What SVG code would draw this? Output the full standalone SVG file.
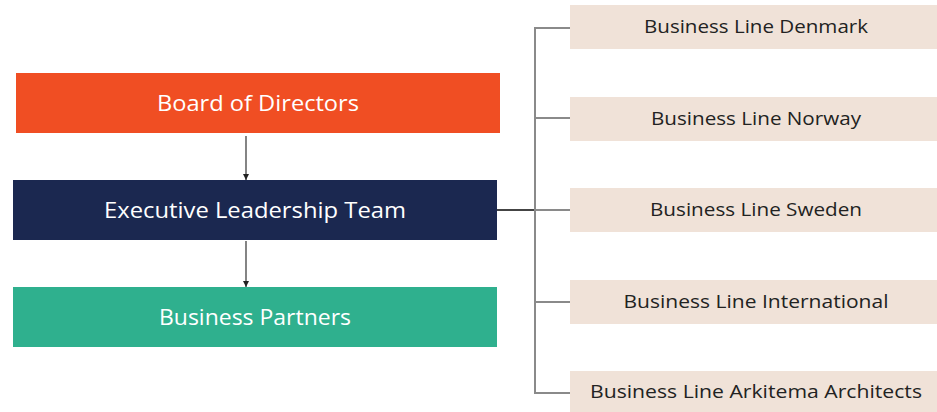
<svg xmlns="http://www.w3.org/2000/svg" width="937" height="412" viewBox="0 0 937 412">
<style>
.l{font-family:"Open Sans","DejaVu Sans",sans-serif;font-size:22.5px;fill:#fff;text-anchor:middle;dominant-baseline:central}
.r{font-family:"Open Sans","DejaVu Sans",sans-serif;font-size:19px;fill:#222;text-anchor:middle;dominant-baseline:central}
.bl{fill:#F0E2D8}
.c{stroke:#8a8a8a;stroke-width:2;fill:none}
.a{stroke:#333;stroke-width:1.2;fill:none}
</style>
<defs>
<marker id="ah" viewBox="0 0 10 10" refX="10" refY="5" markerWidth="6" markerHeight="6" orient="auto" markerUnits="userSpaceOnUse">
<path d="M0,0 L10,5 L0,10 z" fill="#222"/>
</marker>
</defs>
<g id="connectors">
<line class="a" x1="246" y1="136" x2="246" y2="180" marker-end="url(#ah)"/>
<line class="a" x1="246" y1="241" x2="246" y2="287" marker-end="url(#ah)"/>
<line x1="497" y1="210" x2="535" y2="210" stroke="#444" stroke-width="2"/>
<path class="c" d="M570,28 H535 V393 H570 M535,118 H570 M535,210 H570 M535,302 H570"/>
</g>
<g id="board"><rect x="16" y="73" width="484" height="60" fill="#F04E23"/><text class="l" x="258" y="102" textLength="202" lengthAdjust="spacingAndGlyphs">Board of Directors</text></g>
<g id="elt"><rect x="13" y="180" width="484" height="60" fill="#1B2850"/><text class="l" x="255" y="209" textLength="302" lengthAdjust="spacingAndGlyphs">Executive Leadership Team</text></g>
<g id="bp"><rect x="13" y="287" width="484" height="60" fill="#2FB08E"/><text class="l" x="255" y="316" textLength="192" lengthAdjust="spacingAndGlyphs">Business Partners</text></g>
<g id="dk"><rect class="bl" x="570" y="5" width="367" height="44"/><text class="r" x="756" y="26" textLength="224" lengthAdjust="spacingAndGlyphs">Business Line Denmark</text></g>
<g id="no"><rect class="bl" x="570" y="97" width="367" height="44"/><text class="r" x="756" y="118" textLength="210" lengthAdjust="spacingAndGlyphs">Business Line Norway</text></g>
<g id="se"><rect class="bl" x="570" y="188" width="367" height="44"/><text class="r" x="756" y="209" textLength="212" lengthAdjust="spacingAndGlyphs">Business Line Sweden</text></g>
<g id="int"><rect class="bl" x="570" y="280" width="367" height="44"/><text class="r" x="756" y="301" textLength="265" lengthAdjust="spacingAndGlyphs">Business Line International</text></g>
<g id="ark"><rect class="bl" x="570" y="371" width="367" height="41"/><text class="r" x="756" y="391" textLength="332" lengthAdjust="spacingAndGlyphs">Business Line Arkitema Architects</text></g>
</svg>
